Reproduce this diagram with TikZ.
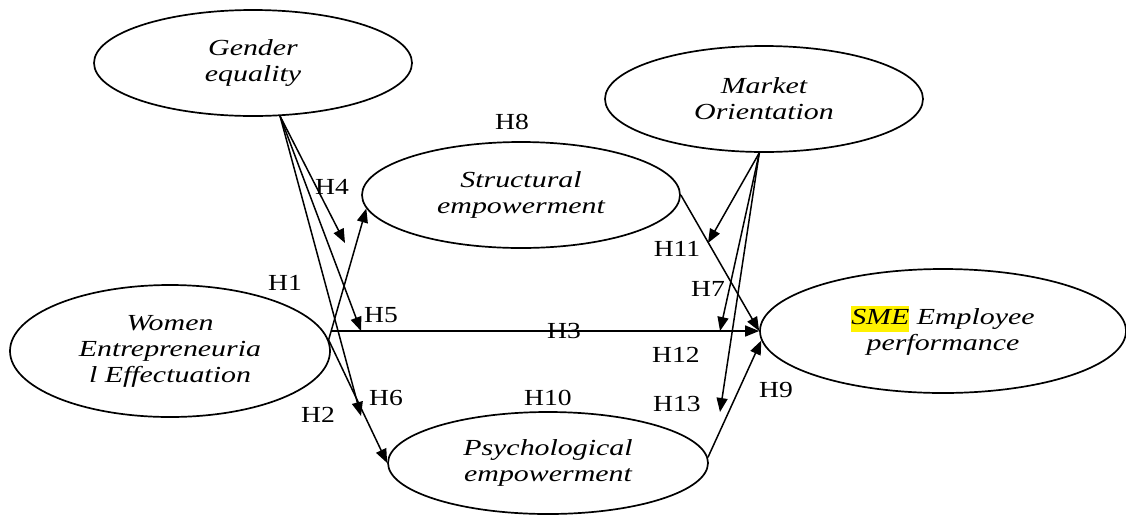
\documentclass[tikz,border=0pt]{standalone}
\usepackage{fontspec}
\setmainfont{Liberation Serif}
\newfontfamily\elfont{Liberation Serif}[FakeStretch=1.3]
\newfontfamily\hfont{Liberation Serif}[FakeStretch=1.2]
\usetikzlibrary{shapes.geometric,arrows.meta}
\begin{document}
\begin{tikzpicture}[x=1pt,y=-1pt,
  el/.style={draw,line width=1.7pt,ellipse,inner sep=0pt,align=center,
    font=\elfont\itshape\fontsize{23}{26}\selectfont},
  lbl/.style={inner sep=0pt,font=\hfont\fontsize{23}{26}\selectfont},
  arr/.style={line width=1.5pt,-{Triangle[length=14pt,width=11pt]}}]
\useasboundingbox (0,0) rectangle (1126,515);
\setlength\fboxsep{0pt}
% ellipses
\node[el,minimum width=318pt,minimum height=106pt] (ge) at (253,63) {Gender\\equality};
\node[el,minimum width=318pt,minimum height=106pt] (mo) at (764,99) {Market\\Orientation};
\node[el,minimum width=318pt,minimum height=106pt] (se) at (521,195) {Structural\\empowerment};
\node[el,minimum width=320pt,minimum height=132pt] (we) at (170,351) {Women\\Entrepreneuria\\l Effectuation};
\node[el,minimum width=366pt,minimum height=124pt] (sme) at (943,331) {\colorbox{yellow}{\strut SME} Employee\\performance};
\node[el,minimum width=320pt,minimum height=102pt] (pe) at (548,463) {Psychological\\empowerment};
% free ends of moderating arrows
\coordinate (c4) at (345,243);
\coordinate (c5) at (361,331);
\coordinate (c6) at (361,416);
\coordinate (c11) at (708,243);
\coordinate (c12) at (720,331);
\coordinate (c13) at (720,412);
% connectors
\draw[arr] (ge.-63) -- (c4);
\draw[arr] (ge.-63) -- (c5);
\draw[arr] (ge.-63) -- (c6);
\draw[arr] (we.4) -- (se.185);
\draw[arr] (we.4) -- (pe.west);
\draw[arr] (we.east |- sme.west) -- (sme.west);
\draw[arr] (se.east) -- (sme.west);
\draw[arr] (pe.2) -- (sme.183);
\draw[arr] (mo.-95) -- (c11);
\draw[arr] (mo.-95) -- (c12);
\draw[arr] (mo.-95) -- (c13);
% labels
\node[lbl] (h8) at (512,122) {H8};
\node[lbl] (h4) at (332,187) {H4};
\node[lbl] (h1) at (285,283) {H1};
\node[lbl] (h5) at (381,315) {H5};
\node[lbl] (h3) at (564,331) {H3};
\node[lbl] (h6) at (386,398) {H6};
\node[lbl] (h2) at (318,415) {H2};
\node[lbl] (h10) at (548,398) {H10};
\node[lbl] (h11) at (677,249) {H11};
\node[lbl] (h7) at (708,289) {H7};
\node[lbl] (h12) at (676,355) {H12};
\node[lbl] (h13) at (677,404) {H13};
\node[lbl] (h9) at (776,390) {H9};
\end{tikzpicture}
\end{document}
